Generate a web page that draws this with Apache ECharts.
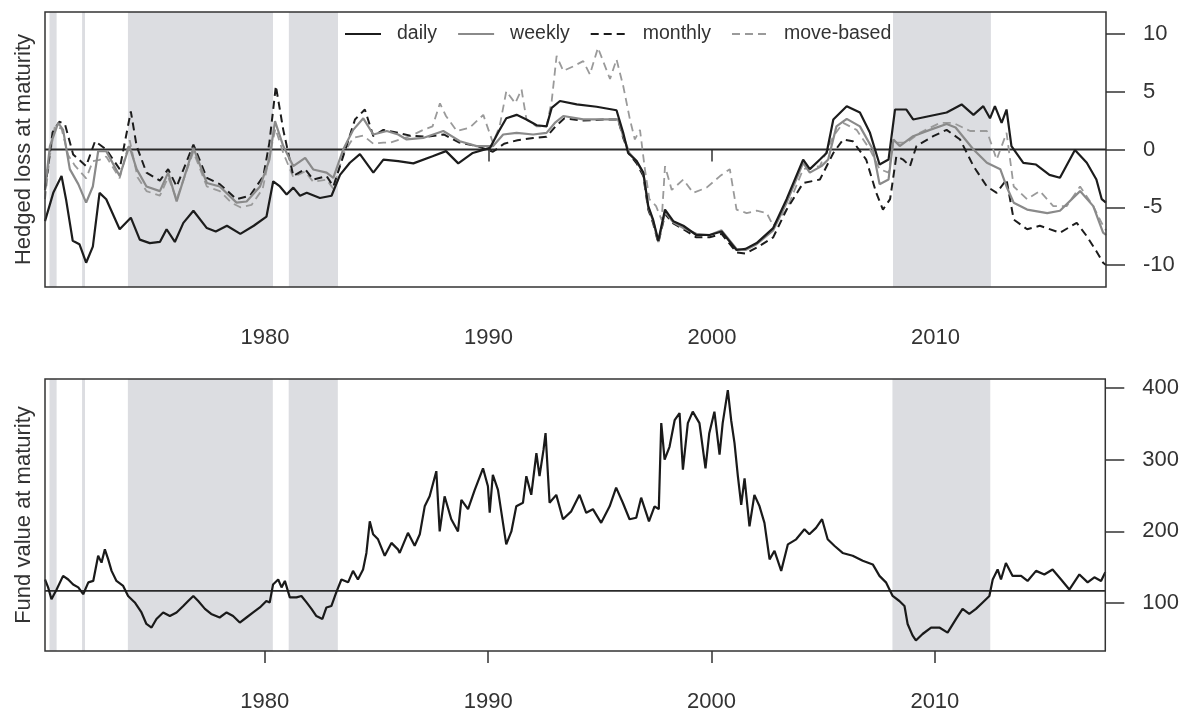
<!DOCTYPE html>
<html>
<head>
<meta charset="utf-8">
<script src="https://cdn.jsdelivr.net/npm/echarts@6/dist/echarts.min.js"></script>
<style>
html,body{margin:0;padding:0;background:#fff;}
#chart{width:1182px;height:713px;}
</style>
</head>
<body>
<div id="chart"></div>
<script>
// ---------- axis ranges & ticks ----------
const yearMin = 1970.16, yearMax = 2017.63;
const yearTicks = [1980, 1990, 2000, 2010];
const lossTicks = [-10, -5, 0, 5, 10];
const lossMin = -11.9, lossMax = 11.9;
const fundTicks = [100, 200, 300, 400];
const fundMin = 33.3, fundMax = 412.5;
const lossRef = 0;
const fundRef = 117;

// shaded periods (start, end)
const shadeStart = [1970.36, 1971.82, 1973.87, 1981.07, 2008.10];
const shadeEnd   = [1970.68, 1971.95, 1980.36, 1983.27, 2012.48];

// ---------- top panel: hedged loss at maturity ----------
const seriesNames = ['daily', 'weekly', 'monthly', 'move-based'];

const dailyYears = [1970.16,1970.53,1970.9,1971.1,1971.4,1971.7,1972.0,1972.3,1972.6,1972.9,1973.5,1974.0,1974.4,1974.85,1975.3,1975.6,1975.97,1976.35,1976.8,1977.4,1977.8,1978.3,1978.9,1979.5,1980.07,1980.37,1980.67,1980.97,1981.27,1981.57,1981.87,1982.46,1982.98,1983.36,1983.8,1984.25,1984.85,1985.3,1985.96,1986.64,1987.5,1988.1,1988.65,1989.3,1990.07,1990.5,1990.8,1991.26,1991.7,1992.16,1992.6,1992.83,1993.2,1993.95,1994.84,1995.73,1996.03,1996.25,1996.63,1996.93,1997.15,1997.37,1997.6,1997.9,1998.27,1998.72,1999.3,1999.9,2000.43,2001.1,2001.5,2002.0,2002.74,2003.34,2004.08,2004.38,2004.83,2005.13,2005.43,2006.03,2006.62,2007.07,2007.5,2007.9,2008.19,2008.7,2009.0,2009.75,2010.5,2011.17,2011.7,2012.14,2012.44,2012.66,2012.96,2013.18,2013.4,2013.93,2014.5,2015.1,2015.57,2016.24,2016.77,2017.2,2017.44,2017.63];
const dailyLoss = [-6.2,-3.75,-2.3,-4.3,-7.9,-8.2,-9.8,-8.4,-3.75,-4.3,-6.9,-5.9,-7.8,-8.1,-8.0,-6.9,-8.0,-6.35,-5.3,-6.8,-7.1,-6.6,-7.3,-6.6,-5.8,-2.75,-3.2,-3.9,-3.3,-4.0,-3.75,-4.2,-4.0,-2.2,-1.15,-0.4,-2.0,-0.87,-1.0,-1.2,-0.58,-0.14,-1.2,-0.3,0.14,1.7,2.7,3.0,2.6,2.1,2.0,3.6,4.2,3.9,3.7,3.4,1.44,-0.3,-1.0,-2.0,-4.9,-6.1,-7.9,-5.2,-6.2,-6.6,-7.4,-7.4,-7.1,-8.7,-8.6,-8.1,-6.8,-4.3,-0.87,-1.7,-0.87,-0.3,2.6,3.75,3.2,1.44,-1.3,-0.87,3.46,3.46,2.6,2.9,3.2,3.9,3.0,3.75,2.7,3.75,2.3,3.46,0.3,-1.15,-1.3,-2.2,-2.45,-0.05,-1.15,-2.6,-4.3,-4.6];

const weeklyYears = [1970.16,1970.38,1970.75,1970.97,1971.27,1971.65,1972.0,1972.3,1972.54,1972.9,1973.5,1973.93,1974.26,1974.7,1975.3,1975.67,1976.05,1976.8,1977.4,1977.98,1978.73,1979.18,1979.78,1980.2,1980.45,1980.82,1981.27,1981.8,1982.16,1982.76,1983.06,1983.5,1983.95,1984.4,1984.85,1985.45,1985.96,1986.34,1987.08,1987.98,1988.72,1989.47,1990.2,1990.66,1991.26,1992.0,1992.6,1992.97,1993.35,1994.24,1995.13,1995.8,1996.03,1996.3,1996.63,1996.93,1997.15,1997.37,1997.6,1997.9,1998.27,1998.72,1999.3,1999.9,2000.43,2001.1,2001.5,2002.0,2002.74,2003.34,2004.08,2004.38,2004.9,2005.2,2005.57,2006.03,2006.62,2007.2,2007.5,2007.9,2008.12,2008.4,2009.0,2009.75,2010.5,2010.9,2011.7,2012.3,2012.9,2013.18,2013.5,2014.1,2015.0,2015.57,2016.47,2017.06,2017.5,2017.63];
const weeklyLoss = [-3.5,0.3,2.3,1.7,-1.7,-3.0,-4.6,-3.2,-0.14,-0.14,-2.3,0.3,-1.7,-3.2,-3.6,-2.0,-4.5,0.14,-2.9,-3.2,-4.6,-4.5,-3.2,-0.87,2.45,0.3,-1.44,-0.72,-1.73,-2.0,-2.45,0,1.7,2.7,1.3,1.6,1.3,0.87,1.0,1.6,0.72,0.29,0.29,1.3,1.44,1.3,1.44,2.3,2.9,2.6,2.6,2.6,1.15,-0.3,-1.0,-2.1,-5.0,-6.2,-8.0,-5.4,-6.3,-6.8,-7.3,-7.4,-7.0,-8.6,-8.7,-8.2,-7.0,-4.6,-1.15,-2.0,-1.44,-0.87,2.0,2.65,2.0,0,-3.0,-2.6,0.87,0.3,1.15,1.7,2.2,1.9,0,-1.15,-1.7,-3.2,-4.6,-5.2,-5.5,-5.3,-3.6,-4.9,-7.2,-7.4];

const monthlyYears = [1970.16,1970.5,1970.8,1971.05,1971.42,1972.0,1972.4,1972.9,1973.5,1974.0,1974.26,1974.7,1975.3,1975.67,1976.05,1976.8,1977.4,1977.98,1978.73,1979.33,1979.93,1980.2,1980.49,1980.82,1981.27,1981.8,1982.16,1982.76,1983.06,1983.5,1984.03,1984.47,1984.85,1985.3,1985.96,1986.5,1987.2,1988.0,1988.7,1989.5,1990.2,1990.7,1991.3,1992.0,1992.6,1993.0,1993.4,1994.24,1995.13,1995.8,1996.03,1996.3,1996.63,1996.93,1997.15,1997.37,1997.6,1997.9,1998.27,1998.72,1999.3,1999.9,2000.43,2001.1,2001.5,2002.0,2002.74,2003.34,2004.08,2004.83,2005.43,2005.87,2006.3,2006.9,2007.35,2007.65,2007.97,2008.25,2008.55,2008.86,2009.15,2009.9,2010.5,2011.1,2011.7,2012.3,2012.74,2013.18,2013.5,2014.1,2014.67,2015.57,2016.32,2016.77,2017.2,2017.5,2017.63];
const monthlyLoss = [-3.5,1.5,2.4,2.2,-0.43,-1.44,0.72,0,-1.7,3.3,0.3,-2.0,-2.7,-1.7,-3.2,0.43,-2.45,-3.0,-4.3,-4.0,-2.3,0.6,5.5,1.7,-2.3,-1.7,-2.6,-2.3,-3.2,-0.6,2.6,3.46,1.15,1.7,1.44,1.2,1.1,1.3,0.6,0.3,-0.2,0.5,0.8,1.0,1.1,2.0,2.7,2.5,2.6,2.6,1.0,-0.4,-1.2,-2.3,-5.2,-6.4,-8.1,-5.6,-6.4,-6.9,-7.6,-7.6,-7.3,-8.9,-9.0,-8.5,-7.6,-5.2,-2.9,-2.6,-0.3,0.87,0.72,-0.87,-3.75,-5.2,-4.3,-0.58,-0.87,-1.44,0.3,1.15,1.7,0.87,-1.44,-3.2,-3.75,-2.6,-6.06,-6.9,-6.6,-7.2,-6.35,-7.5,-8.8,-9.8,-10.0];

const moveYears = [1970.16,1970.38,1970.6,1970.9,1971.2,1971.5,1972.0,1972.3,1972.6,1972.9,1973.5,1973.95,1974.3,1974.7,1975.3,1975.67,1976.05,1976.8,1977.4,1977.98,1978.5,1978.9,1979.4,1979.9,1980.2,1980.47,1980.82,1981.27,1981.8,1982.16,1982.76,1983.06,1983.5,1983.95,1984.4,1984.85,1985.3,1985.6,1986.5,1987.08,1987.5,1987.83,1988.1,1988.58,1989.17,1989.77,1990.2,1990.5,1990.8,1991.2,1991.48,1991.7,1992.16,1992.6,1992.83,1993.05,1993.35,1993.8,1994.24,1994.54,1994.9,1995.44,1995.73,1996.03,1996.33,1996.55,1996.78,1997.0,1997.2,1997.5,1997.75,1997.9,1998.2,1998.72,1999.16,1999.76,2000.36,2000.8,2001.1,2001.55,2002.0,2002.45,2002.74,2003.34,2004.08,2004.83,2005.43,2005.87,2006.47,2007.07,2007.5,2007.9,2008.12,2008.7,2009.3,2010.2,2010.8,2011.55,2012.3,2012.74,2013.18,2013.5,2014.1,2014.67,2015.27,2015.87,2016.47,2017.06,2017.5,2017.63];
const moveLoss = [-4.3,-0.5,2.0,1.8,-0.5,-1.4,-2.5,-1.0,-0.9,-0.6,-2.5,0.8,-2.4,-3.6,-4.0,-2.4,-4.3,-0.2,-3.2,-3.6,-4.6,-5.0,-4.8,-3.4,-0.6,1.8,-0.3,-2.4,-1.9,-2.8,-2.6,-3.4,-0.4,1.0,1.2,0.5,0.6,0.6,1.15,1.7,2.0,4.0,2.9,1.6,1.9,3.0,0.58,2.0,5.05,4.0,5.2,2.6,2.0,2.0,4.2,8.1,6.8,7.2,7.65,6.5,8.8,6.1,7.8,5.5,2.6,0.87,1.7,-1.7,-4.3,-4.9,-6.1,-1.44,-3.5,-2.6,-3.75,-3.3,-2.3,-1.7,-5.2,-5.5,-5.3,-5.5,-6.6,-5.2,-1.7,-1.44,1.15,2.3,1.7,0,-1.7,-2.0,0.6,0.6,1.44,2.3,2.3,1.6,1.6,-0.87,1.44,-3.2,-4.3,-3.6,-4.9,-4.9,-3.2,-4.9,-6.6,-7.0];

// ---------- bottom panel: fund value at maturity ----------
const fundYears = [1970.16,1970.3,1970.45,1970.68,1970.97,1971.2,1971.42,1971.65,1971.87,1972.1,1972.32,1972.54,1972.69,1972.84,1972.99,1973.14,1973.36,1973.66,1973.88,1974.18,1974.48,1974.7,1974.93,1975.15,1975.45,1975.75,1976.05,1976.35,1976.57,1976.8,1977.02,1977.32,1977.6,1977.98,1978.29,1978.58,1978.88,1979.18,1979.48,1979.78,1980.07,1980.22,1980.37,1980.6,1980.75,1980.9,1981.12,1981.42,1981.64,1981.87,1982.09,1982.31,1982.58,1982.76,1982.98,1983.2,1983.43,1983.73,1983.95,1984.17,1984.4,1984.55,1984.7,1984.85,1985.07,1985.37,1985.67,1985.96,1986.04,1986.41,1986.71,1986.94,1987.16,1987.38,1987.68,1987.83,1988.05,1988.35,1988.65,1988.8,1989.1,1989.4,1989.77,1989.99,1990.07,1990.21,1990.44,1990.81,1991.04,1991.26,1991.56,1991.71,1991.93,1992.16,1992.3,1992.48,1992.57,1992.75,1993.05,1993.35,1993.72,1994.09,1994.39,1994.69,1995.06,1995.44,1995.73,1996.03,1996.33,1996.63,1996.85,1997.2,1997.45,1997.64,1997.75,1997.9,1998.12,1998.35,1998.57,1998.72,1998.94,1999.16,1999.46,1999.73,1999.9,2000.13,2000.36,2000.5,2000.73,2000.88,2001.03,2001.18,2001.33,2001.48,2001.7,2001.92,2002.15,2002.37,2002.6,2002.82,2003.12,2003.42,2003.79,2004.16,2004.38,2004.68,2004.95,2005.2,2005.5,2005.87,2006.32,2006.77,2007.22,2007.52,2007.81,2008.11,2008.41,2008.64,2008.78,2009.0,2009.15,2009.45,2009.83,2010.2,2010.57,2010.95,2011.24,2011.54,2011.84,2012.14,2012.44,2012.59,2012.81,2012.96,2013.18,2013.48,2013.86,2014.15,2014.53,2014.9,2015.27,2015.65,2016.02,2016.47,2016.84,2017.14,2017.44,2017.63];
const fundValue = [133,122,105.5,119,138,133,126,122,112.5,129,131,166,156.5,175,161,145,131,124,110,101,87,71,66,78,87,82,87,96,103,110,103,92,85,80,87,82,73,80,87,94,103,101,126,133,122,131,108,108,110,101,92,82,78,94,96,115,133,129,145,133,147,170,214,196,189,166,184,175,170,198,180,196,235,249,284,200,249,217,200,244,231,258,288,263,226,279,258,182,200,235,240,277,251,309,277,314,337,240,251,217,228,251,226,231,212,235,261,240,217,219,247,214,235,231,351,300,318,355,365,286,351,367,351,288,337,367,307,351,397,355,323,277,237,274,207,251,235,212,161,173,145,182,189,203,196,205,217,189,180,170,166,159,154,138,129,110,103,96,71,55,48,57,66,66,59,78,92,85,92,101,110,133,147,133,156,138,138,131,145,140,147,133,119,140,129,136,131,143];

// ---------- build option ----------
const pairs = (xs, ys) => xs.map((x, i) => [x, ys[i]]);
const shadeAreas = shadeStart.map((s, i) => [{ xAxis: s }, { xAxis: shadeEnd[i] }]);

const FONT = "'Liberation Sans', Arial, Helvetica, sans-serif";
const TXT = '#333';
const AX = '#333';

function xAxisFor(gridIndex) {
  return {
    type: 'value', gridIndex, min: yearMin, max: yearMax,
    axisLine: { show: false },
    splitLine: { show: false },
    axisTick: { show: true, inside: false, length: 12, customValues: yearTicks,
                lineStyle: { color: AX, width: 1.5 } },
    axisLabel: { show: true, customValues: yearTicks, margin: 40,
                 fontFamily: FONT, fontSize: 22, color: TXT,
                 formatter: v => String(Math.round(v)) }
  };
}
function yRight(gridIndex, min, max, ticks) {
  return {
    type: 'value', gridIndex, position: 'right', min, max,
    axisLine: { show: false },
    splitLine: { show: false },
    axisTick: { show: true, inside: false, length: 19, customValues: ticks,
                lineStyle: { color: AX, width: 1.5 } },
    axisLabel: { show: true, customValues: ticks, margin: 37, align: 'left',
                 fontFamily: FONT, fontSize: 22, color: TXT,
                 formatter: v => String(Math.round(v)) }
  };
}
function yLeftName(gridIndex, min, max, name) {
  return {
    type: 'value', gridIndex, position: 'left', min, max,
    name, nameLocation: 'middle', nameGap: 10,
    nameTextStyle: { fontFamily: FONT, fontSize: 22, color: TXT },
    axisLine: { show: false }, axisTick: { show: false },
    axisLabel: { show: false }, splitLine: { show: false }
  };
}

const lossStyles = [
  { color: '#1c1c1c', width: 2.2, type: 'solid' },
  { color: '#8a8a8a', width: 2.2, type: 'solid' },
  { color: '#1c1c1c', width: 2.0, type: [8, 5] },
  { color: '#9a9a9a', width: 1.8, type: [8, 5] }
];
const lossData = [pairs(dailyYears, dailyLoss), pairs(weeklyYears, weeklyLoss),
                  pairs(monthlyYears, monthlyLoss), pairs(moveYears, moveLoss)];

const series = [];
series.push({
  type: 'line', xAxisIndex: 0, yAxisIndex: 0, z: 1, silent: true,
  data: [[yearMin, lossRef], [yearMax, lossRef]], symbol: 'none',
  lineStyle: { opacity: 0 },
  markArea: { silent: true, itemStyle: { color: '#dcdde1' }, data: shadeAreas }
});
series.push({
  type: 'line', xAxisIndex: 1, yAxisIndex: 2, z: 1, silent: true,
  data: [[yearMin, fundRef], [yearMax, fundRef]], symbol: 'none',
  lineStyle: { opacity: 0 },
  markArea: { silent: true, itemStyle: { color: '#dcdde1' }, data: shadeAreas }
});
series.push({
  type: 'line', xAxisIndex: 0, yAxisIndex: 0, z: 5, silent: true, symbol: 'none',
  data: [[yearMin, lossRef], [yearMax, lossRef]],
  lineStyle: { color: '#2a2a2a', width: 1.8 }
});
series.push({
  type: 'line', xAxisIndex: 1, yAxisIndex: 2, z: 5, silent: true, symbol: 'none',
  data: [[yearMin, fundRef], [yearMax, fundRef]],
  lineStyle: { color: '#2a2a2a', width: 1.8 }
});
seriesNames.forEach((name, i) => {
  series.push({
    name, type: 'line', xAxisIndex: 0, yAxisIndex: 0, z: 10 - i,
    symbol: 'none', showSymbol: false, silent: true,
    data: lossData[i],
    lineStyle: lossStyles[i],
    itemStyle: { color: lossStyles[i].color }
  });
});
series.push({
  type: 'line', xAxisIndex: 1, yAxisIndex: 2, z: 10, symbol: 'none', silent: true,
  data: pairs(fundYears, fundValue),
  lineStyle: { color: '#1a1a1a', width: 2.2 }
});

const option = {
  animation: false,
  backgroundColor: '#fff',
  textStyle: { fontFamily: FONT },
  grid: [
    { left: 45, top: 12, width: 1061, height: 275, show: true,
      borderColor: AX, borderWidth: 1.5, backgroundColor: 'transparent', z: 20 },
    { left: 45, top: 379, width: 1061, height: 273, show: true,
      borderColor: AX, borderWidth: 1.5, backgroundColor: 'transparent', z: 20 }
  ],
  xAxis: [xAxisFor(0), xAxisFor(1)],
  yAxis: [
    yRight(0, lossMin, lossMax, lossTicks),
    yLeftName(0, lossMin, lossMax, 'Hedged loss at maturity'),
    yRight(1, fundMin, fundMax, fundTicks),
    yLeftName(1, fundMin, fundMax, 'Fund value at maturity')
  ],
  legend: {
    data: seriesNames, left: 339, top: 19,
    itemWidth: 36, itemHeight: 14, itemGap: 20,
    itemStyle: { opacity: 0 },
    textStyle: { fontFamily: FONT, fontSize: 19.5, color: TXT, padding: [0, 0, 0, 11] },
    selectedMode: false
  },
  series
};

const chart = echarts.init(document.getElementById('chart'), null, { renderer: 'canvas' });
chart.setOption(option);
</script>
</body>
</html>
